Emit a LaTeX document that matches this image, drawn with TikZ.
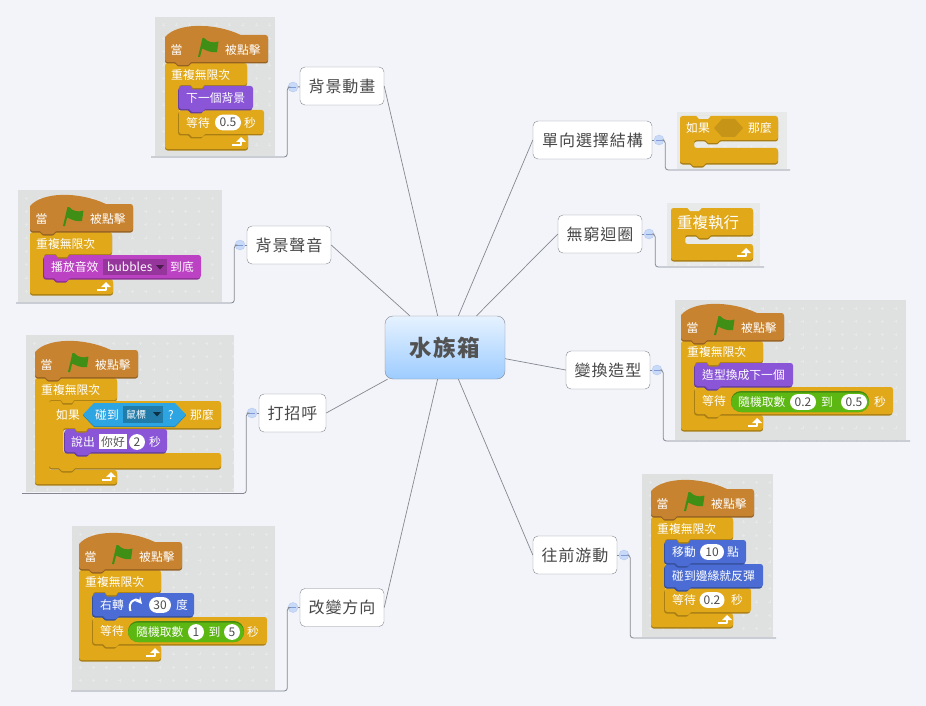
\documentclass[tikz,border=0pt]{standalone}
\usepackage{fontspec}
\setmainfont{Noto Sans CJK TC}
\newfontfamily\topicfont[LetterSpace=6]{Noto Sans CJK TC}
\definecolor{mapbg}{HTML}{F2F4FA}
\definecolor{panelc}{HTML}{DFE1E1}
\definecolor{panellight}{HTML}{E8E9E9}
\definecolor{hatc}{HTML}{C88330}
\definecolor{controlc}{HTML}{E1A91A}
\definecolor{looksc}{HTML}{8A55D7}
\definecolor{soundc}{HTML}{BB42C3}
\definecolor{motionc}{HTML}{4A6CD4}
\definecolor{greenc}{HTML}{5CB712}
\definecolor{sensec}{HTML}{2CA5E2}
\definecolor{linec}{HTML}{858890}
\definecolor{flagc}{HTML}{3F8F16}
\definecolor{rootup}{HTML}{E6F2FF}
\definecolor{rootdown}{HTML}{9DCCFF}
\definecolor{foldfill}{HTML}{C9DAF8}
\definecolor{foldedge}{HTML}{B4C9F0}
\definecolor{foldminus}{HTML}{7F9CD8}
\tikzset{
	topic/.style={draw=linec,fill=white,rounded corners=5pt,minimum height=38,inner sep=0,text=black!72,font=\topicfont\fontsize{16}{18}\selectfont},
	root/.style={draw=linec,rounded corners=8pt,minimum width=120,minimum height=63,inner sep=0,top color=rootup,bottom color=rootdown,text=black!68,font=\topicfont\fontsize{22.5}{24}\selectfont\bfseries},
	fold/.style={circle,draw=foldedge,fill=foldfill,minimum size=10,inner sep=0,path picture={\draw[foldminus,line width=.7pt] ([xshift=-3pt]path picture bounding box.center)--([xshift=3pt]path picture bounding box.center);}},
	link/.style={draw=linec,line width=.7pt},
	foldline/.style={draw=linec,line width=.8pt,rounded corners=3pt},
	blocktxt/.style={anchor=west,inner sep=0,text=white,text height=10.5,text depth=1.5,font=\fontsize{11.8}{13}\selectfont},
	numbox/.style={fill=white,rounded corners=7.9pt,minimum height=15.8,inner sep=0,text=black!70,font=\fontsize{12}{13}\selectfont},
}
\newcounter{lblno}
\newcommand{\lbl}[3]{\stepcounter{lblno}\node[blocktxt] (lbl\arabic{lblno}) at (#1,#2) {#3};}
\newcommand{\numin}[4]{\stepcounter{lblno}\node[numbox,minimum width=#3] (lbl\arabic{lblno}) at (#1,#2) {#4};}
% x1, y1, x2, y2, colour
\newcommand{\panel}[5]{
	\fill[#5] (#1,#2) rectangle (#3,#4);
	\begin{scope}
		\clip (#1,#2) rectangle (#3,#4);
		\foreach \gi in {0,...,17}
		\foreach \gj in {0,...,12}
		\draw[white!25!#5,line width=.35pt] ({#1+8+\gi*13.3-1.5},{#2+8+\gj*13.3})--++(3,0) ({#1+8+\gi*13.3},{#2+8+\gj*13.3-1.5})--++(0,3);
	\end{scope}
}
% x, y, width, height, colour
\newcommand{\stackblock}[5]{
	\begin{scope}[shift={(#1,#2)}]
		\foreach \dx/\dy/\col in {-.8/1.5/#5!75!black,0/0/#5}
		\path[fill=\col,shift={(\dx,\dy)}] [rounded corners=2.5pt] (0,0)--(#3,0)--(#3,#4) [rounded corners=.6pt] --(26,#4)--(23,#4+3)--(13,#4+3)--(10,#4) [rounded corners=2.5pt] --(0,#4)--cycle;
	\end{scope}
}
% x, y, header w, header h, footer top, footer w, footer h, colour, bump under the footer
\newcommand{\cblock}[9]{
	\begin{scope}[shift={(#1,#2)}]
		\foreach \dy/\col in {1.5/#8!75!black,0/#8}
		\path[fill=\col,shift={(0,\dy)}] [rounded corners=2.5pt] (0,0)--(#3,0)--(#3,#4) [rounded corners=.6pt] --(40,#4)--(37,#4+3)--(28,#4+3)--(25,#4) [rounded corners=2.5pt] --(14,#4)--(14,#5)--(#6,#5)--(#6,#5+#7) [rounded corners=.6pt] --(26,#5+#7)--(23,#5+#7+#9)--(13,#5+#7+#9)--(10,#5+#7) [rounded corners=2.5pt] --(0,#5+#7)--cycle;
	\end{scope}
}
% left of the C, bottom of its header, colour
\newcommand{\headbump}[3]{
	\begin{scope}[shift={(#1,#2)}]
		\fill[#3!75!black] (25,0)--(28,4.5)--(37,4.5)--(40,0)--cycle;
		\fill[#3] (25,-1)--(28,3)--(37,3)--(40,-1)--cycle;
	\end{scope}
}
\newcommand{\hatblock}[2]{
	\begin{scope}[shift={(#1,#2)}]
		\foreach \dy/\col in {1.5/hatc!75!black,0/hatc}
		\path[fill=\col,shift={(0,\dy)}] (0,12) .. controls (12,-2) and (48,-3) .. (76,10) [rounded corners=2.5pt] --(103,10)--(103,37) [rounded corners=.6pt] --(26,37)--(23,40)--(13,40)--(10,37) [rounded corners=2.5pt] --(0,37)--(0,12);
		\fill[flagc] (33,32)--(37.5,13)--(39,13) .. controls (44,18) and (48,18) .. (53.5,16.5)--(52,27) .. controls (47,28) and (42,26) .. (37.2,23.5)--(35,32)--cycle;
		\lbl{5.5}{25}{當}
		\lbl{60}{25}{被點擊}
	\end{scope}
}
% right end and bottom of a loop footer
\newcommand{\loopmark}[2]{
	\begin{scope}[shift={(#1,#2)}]
		\draw[white,line width=1.8pt,line cap=butt] (-16,-3.8)--(-7,-3.8)--(-7,-8);
		\fill[white] (-12,-7)--(-2,-7)--(-7,-12)--cycle;
	\end{scope}
}
\begin{document}
\begin{tikzpicture}[x=1pt,y=-1pt,line join=round,>=stealth]
	\useasboundingbox[fill=mapbg] (0,0) rectangle (926,706);
	\panel{155}{17}{275}{156}{panelc}
	\panel{18}{190}{222}{302}{panelc}
	\panel{26}{335}{234}{492}{panelc}
	\panel{72}{526}{275}{690}{panelc}
	\panel{677}{112}{787}{169}{panellight}
	\panel{667}{203}{760}{266}{panellight}
	\panel{675}{300}{906}{440}{panelc}
	\panel{642}{474}{773}{637}{panelc}

	\node[root] (aquarium) at (445,347.5) {水族箱};
	\node[topic,minimum width=84] (bgmove) at (342,86) {背景動畫};
	\node[topic,minimum width=84] (bgsound) at (289,245) {背景聲音};
	\node[topic,minimum width=67] (greet) at (292.5,413) {打招呼};
	\node[topic,minimum width=84] (turndir) at (342,607.5) {改變方向};
	\node[topic,minimum width=119] (ifnode) at (592.5,140) {單向選擇結構};
	\node[topic,minimum width=84] (forever) at (600,234) {無窮迴圈};
	\node[topic,minimum width=84] (costume) at (608,370) {變換造型};
	\node[topic,minimum width=84] (swim) at (575,555) {往前游動};

	\node[fold] (bgmovefold) at (293,87) {};
	\node[fold] (bgsoundfold) at (240,245) {};
	\node[fold] (greetfold) at (252,413) {};
	\node[fold] (turndirfold) at (293,607.5) {};
	\node[fold] (iffold) at (659,140) {};
	\node[fold] (foreverfold) at (649,234) {};
	\node[fold] (costumefold) at (657,370) {};
	\node[fold] (swimfold) at (624,555) {};

	\coordinate (bgmoveend) at (151,157);
	\coordinate (bgsoundend) at (16,303);
	\coordinate (greetend) at (22,493.5);
	\coordinate (turndirend) at (71,691);
	\coordinate (ifend) at (790,170);
	\coordinate (foreverend) at (764,267);
	\coordinate (costumeend) at (910,441);
	\coordinate (swimend) at (776,638);

	\draw[link] (aquarium)--(bgmove.east);
	\draw[link] (aquarium)--(bgsound.east);
	\draw[link] (aquarium)--(greet.east);
	\draw[link] (aquarium)--(turndir.east);
	\draw[link] (aquarium)--(ifnode.west);
	\draw[link] (aquarium)--(forever.west);
	\draw[link] (aquarium)--(costume.west);
	\draw[link] (aquarium)--(swim.west);

	\draw[foldline] (bgmove)--(bgmovefold);
	\draw[foldline] (bgsound)--(bgsoundfold);
	\draw[foldline] (greet)--(greetfold);
	\draw[foldline] (turndir)--(turndirfold);
	\draw[foldline] (ifnode)--(iffold);
	\draw[foldline] (forever)--(foreverfold);
	\draw[foldline] (costume)--(costumefold);
	\draw[foldline] (swim)--(swimfold);
	\draw[foldline] (bgmovefold.west)--++(-.5,0)|-(bgmoveend);
	\draw[foldline] (bgsoundfold.west)--++(-.5,0)|-(bgsoundend);
	\draw[foldline] (greetfold.west)--++(-.5,0)|-(greetend);
	\draw[foldline] (turndirfold.west)--++(-.5,0)|-(turndirend);
	\draw[foldline] (iffold.east)--++(1,0)|-(ifend);
	\draw[foldline] (foreverfold.east)--++(1,0)|-(foreverend);
	\draw[foldline] (costumefold.east)--++(1,0)|-(costumeend);
	\draw[foldline] (swimfold.east)--++(1,0)|-(swimend);

	% backdrop script
	\cblock{165}{63}{82}{22}{71}{83}{15}{controlc}{0}
	\stackblock{179}{110}{85}{24}{controlc}
	\lbl{186}{123}{等待}
	\numin{228}{122.5}{26}{0.5}
	\lbl{244}{123}{秒}
	\stackblock{179}{86}{74}{23}{looksc}
	\lbl{186}{98}{下一個背景}
	\headbump{165}{85}{controlc}
	\lbl{171}{75}{重複無限次}
	\loopmark{248}{149}
	\hatblock{165}{25}

	% sound script
	\cblock{30}{232}{82}{22}{47}{83}{15}{controlc}{0}
	\stackblock{44}{255}{157}{23}{soundc}
	\lbl{51}{267}{播放音效}
	\fill[soundc!80!black] (103,259) rectangle (167,275);
	\node[blocktxt,font=\fontsize{12}{13}\selectfont] (bubbles) at (107,267) {bubbles};
	\fill[black!60!soundc] (156,265)--(164,265)--(160,269.5)--cycle;
	\lbl{170}{267}{到底}
	\headbump{30}{254}{controlc}
	\lbl{36}{244}{重複無限次}
	\loopmark{113}{294}
	\hatblock{30}{194}

	% greeting script
	\cblock{35}{378}{82}{22}{92}{82}{14}{controlc}{0}
	\cblock{49}{401}{172}{27}{52}{172}{15}{controlc}{3}
	\stackblock{65}{429}{102}{23}{looksc}
	\lbl{71}{442}{說出}
	\fill[white] (99,434) rectangle (127,449);
	\node[blocktxt,text=black!65] (hello) at (101,442) {你好};
	\numin{137}{442}{16}{2}
	\lbl{149}{442}{秒}
	\headbump{49}{428}{controlc}
	\fill[sensec!80!black] (83,415.5)--(94,404.5)--(175,404.5)--(186,415.5)--(175,427)--(94,427)--cycle;
	\fill[sensec] (83,414.5)--(94,403)--(175,403)--(186,414.5)--(175,426)--(94,426)--cycle;
	\lbl{56}{415}{如果}
	\lbl{95}{415}{碰到}
	\fill[sensec!75!black] (123,406) rectangle (163,423);
	\node[blocktxt,font=\fontsize{10}{11}\selectfont] (mouse) at (126,414) {鼠標};
	\fill[black!70!sensec] (153,412)--(161,412)--(157,416.5)--cycle;
	\lbl{168}{415}{?}
	\lbl{190}{415}{那麼}
	\headbump{35}{400}{controlc}
	\lbl{41}{390}{重複無限次}
	\loopmark{118}{484}
	\hatblock{35}{340}

	% turning script
	\cblock{79}{570}{82}{22}{75}{82}{15}{controlc}{0}
	\stackblock{93}{617}{174}{27}{controlc}
	\lbl{100}{631}{等待}
	\fill[greenc!75!black,rounded corners=10pt] (128,621) rectangle (244,642);
	\fill[greenc,rounded corners=10pt] (128,622.5) rectangle (244,642);
	\lbl{136}{632}{隨機取數}
	\numin{196}{632}{16}{1}
	\lbl{208.5}{632}{到}
	\numin{232}{632}{16}{5}
	\lbl{247}{632}{秒}
	\stackblock{93}{593}{101}{23}{motionc}
	\lbl{100}{605}{右轉}
	\draw[white,line width=2pt,-stealth] (130.5,611) .. controls (127,602) and (136,597) .. (142,604);
	\numin{160}{605}{22}{30}
	\lbl{176}{605}{度}
	\headbump{79}{592}{controlc}
	\lbl{85}{582}{重複無限次}
	\loopmark{162}{660}
	\hatblock{79}{532}

	% if block
	\cblock{680}{116}{98}{24}{32}{98}{15}{controlc}{3}
	\fill[controlc!88!black] (714,128)--(722,119)--(735,119)--(743,128)--(735,137)--(722,137)--cycle;
	\lbl{686}{128}{如果}
	\lbl{748}{128}{那麼}
	\fill[panellight] (696,115.5)--(699,119)--(708,119)--(711,115.5)--cycle;

	% loop block
	\cblock{671}{208}{82}{27}{36}{82}{16}{controlc}{0}
	\node[blocktxt,text height=14,text depth=2,font=\fontsize{15.5}{17}\selectfont] (loopword) at (677,222) {重複執行};
	\fill[panellight] (687,207.5)--(690,211)--(699,211)--(702,207.5)--cycle;
	\loopmark{753}{260}

	% costume script
	\cblock{681}{341}{82}{21}{74}{82}{15}{controlc}{0}
	\stackblock{695}{387}{198}{27}{controlc}
	\lbl{702}{401}{等待}
	\fill[greenc!75!black,rounded corners=10pt] (731,391) rectangle (869,412);
	\fill[greenc,rounded corners=10pt] (731,392.5) rectangle (869,412);
	\lbl{738}{402}{隨機取數}
	\numin{803}{402}{26}{0.2}
	\lbl{821}{402}{到}
	\numin{854}{402}{26}{0.5}
	\lbl{874}{402}{秒}
	\stackblock{695}{363}{98}{23}{looksc}
	\lbl{702}{375}{造型換成下一個}
	\headbump{681}{362}{controlc}
	\lbl{687}{352}{重複無限次}
	\loopmark{764}{430}
	\hatblock{681}{303}

	% swimming script
	\cblock{651}{517}{82}{22}{96}{82}{14}{controlc}{0}
	\stackblock{665}{588}{86}{24}{controlc}
	\lbl{672}{600}{等待}
	\numin{712}{600}{25}{0.2}
	\lbl{731}{600}{秒}
	\stackblock{665}{564}{98}{23}{motionc}
	\lbl{672}{576}{碰到邊緣就反彈}
	\stackblock{665}{540}{81}{23}{motionc}
	\lbl{672}{552}{移動}
	\numin{712}{552}{24}{10}
	\lbl{727}{552}{點}
	\headbump{651}{539}{controlc}
	\lbl{657}{529}{重複無限次}
	\loopmark{734}{627}
	\hatblock{651}{479}
\end{tikzpicture}
\end{document}
